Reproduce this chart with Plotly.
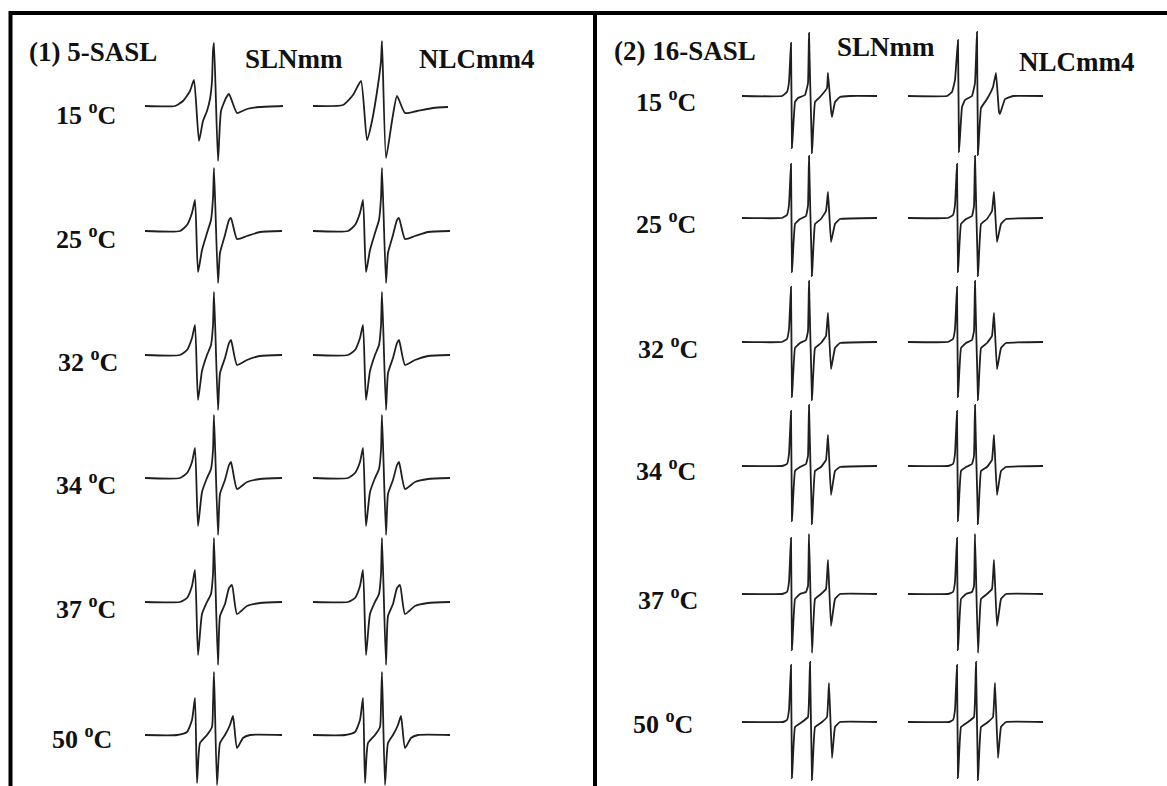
import plotly.graph_objects as go

W, H = 1167, 786

# ---------------- labels ----------------
PROBES = ["(1) 5-SASL", "(2) 16-SASL"]
FORMS = ["SLNmm", "NLCmm4"]
TEMPS = ["15", "25", "32", "34", "37", "50"]

# ---------------- spectra (field offset, a.u. intensity) ----------------
# 5-SASL, SLNmm  (one list per temperature)
X5_SLN = [
    [0, 30, 38, 45, 49, 54, 58, 62, 65, 67, 68, 69, 73, 76, 81, 84, 92, 102, 115, 138],
    [0, 35, 42, 47, 50, 53, 57, 62, 66, 68, 69, 73, 75, 80, 84, 86, 92, 102, 115, 137],
    [0, 35, 42, 47, 50, 53, 57, 62, 66, 68, 69, 73, 75, 80, 84, 86, 92, 102, 115, 137],
    [0, 35, 42, 47, 50, 53, 57, 62, 66, 68, 69, 73, 75, 80, 84, 86, 92, 102, 115, 137],
    [0, 35, 42, 47, 50, 53, 57, 62, 66, 68, 69, 73, 75, 80, 84, 87, 92, 102, 115, 137],
    [0, 32, 42, 47, 50, 52, 55, 62, 67, 68, 69, 72, 75, 80, 85, 88, 92, 98, 105, 137],
]
Y5_SLN = [
    [0, 0, 5, 15, 26, -35, -15, -5, 7, 25, 55, 63, -55, -5, 8, 12, -7, -3, -1, 0],
    [0, 0, 6, 18, 31, -41, -19, -2, 11, 33, 63, -52, -22, -4, 11, 13, -8, -5, -1, 0],
    [0, 0, 5, 17, 30, -45, -16, 0, 10, 30, 63, -55, -18, -3, 12, 15, -10, -5, -1, 0],
    [0, 0, 5, 16, 30, -48, -14, 0, 9, 28, 63, -57, -16, -2, 13, 16, -11, -4, -1, 0],
    [0, 0, 4, 16, 32, -53, -12, 0, 8, 28, 64, -63, -14, -2, 14, 17, -12, -4, -1, 0],
    [0, 0, 3, 15, 37, -48, -8, 0, 8, 30, 63, -50, -8, 0, 10, 19, -13, -3, 0, 0],
]
# 5-SASL, NLCmm4
X5_NLC = [
    [0, 30, 40, 48, 54, 59, 65, 68, 69, 73, 79, 84, 92, 104, 120, 135],
    [0, 35, 42, 47, 50, 53, 57, 62, 66, 68, 69, 73, 75, 80, 84, 86, 92, 102, 115, 137],
    [0, 35, 42, 47, 50, 53, 57, 62, 66, 68, 69, 73, 75, 80, 84, 86, 92, 102, 115, 137],
    [0, 35, 42, 47, 50, 53, 57, 62, 66, 68, 69, 73, 75, 80, 84, 86, 92, 102, 115, 137],
    [0, 35, 42, 47, 50, 53, 57, 62, 66, 68, 69, 73, 75, 80, 84, 87, 92, 102, 115, 137],
    [0, 32, 42, 47, 50, 52, 55, 62, 67, 68, 69, 72, 75, 80, 85, 88, 92, 98, 105, 137],
]
Y5_NLC = [
    [0, 1, 11, 25, -34, -15, 21, 45, 65, -52, -15, 10, -7, -5, -2, -1],
    [0, 0, 6, 18, 31, -41, -19, -2, 11, 33, 63, -52, -22, -4, 11, 13, -8, -5, -1, 0],
    [0, 0, 5, 17, 30, -45, -16, 0, 10, 30, 63, -55, -18, -3, 12, 15, -10, -5, -1, 0],
    [0, 0, 5, 16, 30, -48, -14, 0, 9, 28, 63, -57, -16, -2, 13, 16, -11, -4, -1, 0],
    [0, 0, 4, 16, 32, -53, -12, 0, 8, 28, 64, -63, -14, -2, 14, 17, -12, -4, -1, 0],
    [0, 0, 3, 15, 37, -48, -8, 0, 8, 30, 63, -50, -8, 0, 10, 19, -13, -3, 0, 0],
]
# 16-SASL, SLNmm
X16_SLN = [
    [0, 40, 45, 47, 49, 50, 53, 56, 63, 66, 67, 70, 73, 78, 85, 86, 89, 90, 93, 98, 108, 135],
    [0, 40, 45, 47, 49, 50, 53, 58, 64, 66, 67, 70, 73, 79, 84, 86, 89, 93, 98, 135],
    [0, 40, 45, 47, 49, 50, 53, 58, 64, 66, 67, 70, 73, 79, 84, 86, 89, 93, 98, 135],
    [0, 40, 45, 47, 49, 50, 53, 58, 64, 66, 67, 70, 73, 79, 84, 86, 89, 93, 98, 135],
    [0, 40, 45, 47, 49, 50, 53, 58, 64, 66, 67, 70, 73, 79, 84, 86, 89, 93, 98, 135],
    [0, 41, 45, 47, 49, 50, 53, 60, 66, 68, 70, 73, 80, 85, 87, 90, 93, 98, 135],
]
Y16_SLN = [
    [0, 0, 4, 14, 53, -52, -6, -2, 1, 13, 63, -57, -6, -1, 8, 23, -14, -21, -6, -1, 0, 0],
    [0, 0, 3, 13, 54, -54, -6, -1, 2, 12, 62, -58, -6, -1, 7, 26, -24, -6, -1, 0],
    [0, 0, 3, 13, 55, -55, -6, -1, 2, 11, 61, -58, -6, -1, 6, 29, -27, -6, -1, 0],
    [0, 0, 2, 12, 55, -55, -5, -1, 2, 10, 61, -58, -5, -1, 6, 31, -29, -5, -1, 0],
    [0, 0, 2, 12, 56, -56, -5, 0, 2, 8, 60, -59, -5, 0, 5, 34, -32, -5, 0, 0],
    [0, 0, 2, 12, 57, -56, -5, 0, 5, 60, -58, -5, 0, 5, 39, -36, -5, 0, 0],
]
# 16-SASL, NLCmm4
X16_NLC = [
    [0, 39, 44, 47, 50, 51, 54, 57, 64, 67, 69, 70, 73, 79, 85, 88, 91, 92, 97, 105, 135],
    [0, 40, 45, 47, 49, 50, 53, 58, 64, 66, 67, 70, 73, 79, 84, 86, 89, 93, 98, 135],
    [0, 40, 45, 47, 49, 50, 53, 58, 64, 66, 67, 70, 73, 79, 84, 86, 89, 93, 98, 135],
    [0, 40, 45, 47, 49, 50, 53, 58, 64, 66, 67, 70, 73, 79, 84, 86, 89, 93, 98, 135],
    [0, 40, 45, 47, 49, 50, 53, 58, 64, 66, 67, 70, 73, 79, 84, 86, 89, 93, 98, 135],
    [0, 41, 45, 47, 49, 50, 53, 60, 66, 68, 70, 73, 80, 85, 87, 90, 93, 98, 135],
]
Y16_NLC = [
    [0, 0, 4, 16, 56, -56, -11, -4, 0, 13, 64, -59, -12, -3, 9, 23, -16, -18, -3, 0, 0],
    [0, 0, 3, 13, 54, -54, -6, -1, 2, 12, 62, -58, -6, -1, 7, 26, -24, -6, -1, 0],
    [0, 0, 3, 13, 55, -55, -6, -1, 2, 11, 61, -58, -6, -1, 6, 29, -27, -6, -1, 0],
    [0, 0, 2, 12, 55, -55, -5, -1, 2, 10, 61, -58, -5, -1, 6, 31, -29, -5, -1, 0],
    [0, 0, 2, 12, 56, -56, -5, 0, 2, 8, 60, -59, -5, 0, 5, 34, -32, -5, 0, 0],
    [0, 0, 2, 12, 57, -56, -5, 0, 5, 60, -58, -5, 0, 5, 39, -36, -5, 0, 0],
]

# ---------------- layout geometry (pixels) ----------------
COL_X0 = [145, 313, 742, 908]                 # left edge of each spectrum column
BASE = [[106, 231, 355, 478, 602, 735],       # baselines, panel (1)
        [96, 218, 342, 466, 594, 722]]        # baselines, panel (2)
LABEL_Y = [[113, 237, 360, 483, 607, 737],
           [100, 222, 347, 470, 598, 722]]
LABEL_XR = [[118, 118, 120, 118, 118, 114],
            [698, 698, 700, 698, 700, 695]]
HEAD_POS = [[(27, 52), (243, 59), (417, 59)],
            [(612, 51), (835, 47), (1017, 62)]]

DATA = [[(X5_SLN, Y5_SLN), (X5_NLC, Y5_NLC)],
        [(X16_SLN, Y16_SLN), (X16_NLC, Y16_NLC)]]
SMOOTH = [0.5, 0.25]

fig = go.Figure()
layout = {}
for ci, x0 in enumerate(COL_X0):
    key = "xaxis" if ci == 0 else f"xaxis{ci + 1}"
    layout[key] = dict(domain=[0, 1], range=[-x0, W - x0], visible=False, fixedrange=True)
for p in range(2):
    for r in range(6):
        yi = p * 6 + r + 1
        key = "yaxis" if yi == 1 else f"yaxis{yi}"
        b = BASE[p][r]
        layout[key] = dict(domain=[0, 1], range=[-(H - b), b], visible=False, fixedrange=True)

for p in range(2):
    for f in range(2):
        xs_all, ys_all = DATA[p][f]
        ci = p * 2 + f
        for r in range(6):
            yi = p * 6 + r + 1
            fig.add_trace(go.Scatter(
                x=xs_all[r], y=ys_all[r], mode="lines",
                line=dict(color="#1f1f1f", width=1.8, shape="spline", smoothing=SMOOTH[p]),
                xaxis="x" if ci == 0 else f"x{ci + 1}",
                yaxis="y" if yi == 1 else f"y{yi}",
                hoverinfo="skip", showlegend=False,
            ))

FONT = dict(family="Liberation Serif, Times New Roman, serif", size=26, color="#111111")
HEAD_FONT = dict(FONT, size=27)
ann = []
for p in range(2):
    heads = [PROBES[p]] + FORMS
    for (hx, hy), txt in zip(HEAD_POS[p], heads):
        ann.append(dict(x=hx / W, y=1 - hy / H, xref="paper", yref="paper",
                        text=f"<b>{txt}</b>", showarrow=False,
                        xanchor="left", yanchor="middle", font=HEAD_FONT))
    for r, t in enumerate(TEMPS):
        ann.append(dict(x=LABEL_XR[p][r] / W, y=1 - LABEL_Y[p][r] / H,
                        xref="paper", yref="paper",
                        text=f"<b>{t} <sup>o</sup>C</b>", showarrow=False,
                        xanchor="right", yanchor="middle", font=FONT))

frame = dict(color="black", width=4)
shapes = [
    dict(type="line", xref="paper", yref="paper", x0=9 / W, x1=1, y0=1 - 13 / H, y1=1 - 13 / H, line=frame),
    dict(type="line", xref="paper", yref="paper", x0=10.5 / W, x1=10.5 / W, y0=1 - 11 / H, y1=0, line=frame),
    dict(type="line", xref="paper", yref="paper", x0=595 / W, x1=595 / W, y0=1 - 11 / H, y1=0, line=frame),
]

fig.update_layout(
    width=W, height=H, autosize=False,
    margin=dict(l=0, r=0, t=0, b=0, pad=0),
    paper_bgcolor="white", plot_bgcolor="rgba(0,0,0,0)",
    annotations=ann, shapes=shapes, showlegend=False,
    **layout,
)
fig.write_html("out.html", config={"displayModeBar": False},
               post_script="document.body.style.margin='0';document.body.style.overflow='hidden';")
